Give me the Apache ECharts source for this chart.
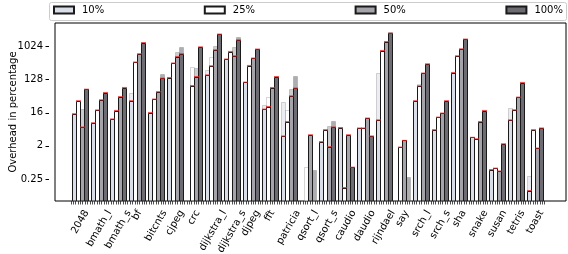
<!DOCTYPE html>
<html><head><meta charset="utf-8">
<script src="https://cdn.jsdelivr.net/npm/echarts@6/dist/echarts.min.js"></script>
<style>html,body{margin:0;padding:0;background:#fff}#c{width:568px;height:254px}</style>
</head><body><div id="c"></div>
<script>
const categories = ['2048','bmath_l','bmath_s','bf','bitcnts','cjpeg','crc','dijkstra_l','dijkstra_s','djpeg','fft','patricia','qsort_l','qsort_s','caudio','daudio','rijndael','say','srch_l','srch_s','sha','snake','susan','tetris','toast'];
const seriesNames = ['10%','25%','50%','100%'];
// outlined (main) bars
const p10  = [15, 8.5, 10.8, 34, 16.2, 146, null, 172, 465, 109, 20, 3.7, null, 2.6, 6.3, 6.1, 10.2, null, 34, 5.5, 200, 3.4, 0.45, 10.2, 0.12];
const p25  = [34, 19, 18.4, 385, 37.6, 362, 88, 305, 750, 311, 23.6, 9.2, null, 5.5, 0.145, 6.1, 797, 1.84, 87, 12.1, 570, 3.1, 0.49, 19.2, 5.5];
const p50  = [6.5, 36, 44, 650, 60, 546, 155, 832, 570, 494, 78, 46, 4, 1.9, 4, 11.4, 1400, 2.8, 193, 15.6, 885, 9.2, 0.41, 42.5, 1.73];
const p100 = [70, 57, 78, 1315, 140, 650, 1000, 2230, 1555, 870, 155, 75, null, 6.5, 0.52, 3.7, 2350, null, 345, 34, 1630, 18.4, 2.27, 107, 6.1];
// translucent (second run) bars
const g10  = [null, null, null, 55, null, null, null, 237, null, null, 26, 32, null, null, null, null, 200, null, null, null, null, null, null, 21.4, 0.31];
const g25  = [null, null, null, null, null, null, 280, 546, null, null, 44, 19, 0.54, null, null, null, null, null, 98, null, null, null, null, null, null];
const g50  = [20, null, null, null, null, 720, 267, 1070, 1024, null, null, 70, null, 7, null, null, null, null, null, null, null, null, null, null, null];
const g100 = [null, null, null, null, 181, 990, null, null, 1840, null, null, 162, 0.44, 9.8, null, null, 2630, 0.29, null, null, null, null, null, null, null];
const yTickValues = [0.25, 2, 16, 128, 1024];

const FONT = 'DejaVu Sans';
const fills = ['#dadee8', '#ffffff', '#a4a4aa', '#6c6c72'];
const mainData = [p10, p25, p50, p100];
const ghostData = [g10, g25, g50, g100];
const yMin = 0.0625, yMax = 4500;
const BW = 4;

const measureCtx = document.createElement('canvas').getContext('2d');
measureCtx.font = '10px "' + FONT + '"';

const chart = echarts.init(document.getElementById('c'), null, {renderer: 'canvas'});

function barRenderer(slot) {
  return function (params, api) {
    const i = api.value(0);
    const v = api.value(1);
    if (v == null || isNaN(v)) return null;
    const top = api.coord([i, v]);
    const cs = params.coordSys;
    const bottom = cs.y + cs.height;
    const x = Math.round(top[0] + (slot - 2) * BW) + 0.5;
    const y = Math.round(top[1]) + 0.5;
    return {type: 'rect', shape: {x: x, y: y, width: BW, height: bottom - y}, style: api.style()};
  };
}

const series = [];
seriesNames.forEach((n, k) => {
  series.push({
    name: 'ghost' + n, type: 'custom', xAxisIndex: 1, yAxisIndex: 1, z: 1, silent: true, clip: true,
    encode: {x: 0, y: 1},
    itemStyle: {color: fills[k], opacity: 0.55, borderColor: 'rgba(40,40,40,0.35)', borderWidth: 1},
    data: categories.map((c, i) => [i, ghostData[k][i]]),
    renderItem: barRenderer(k)
  });
});
seriesNames.forEach((n, k) => {
  series.push({
    name: n, type: 'custom', xAxisIndex: 1, yAxisIndex: 1, z: 2, clip: true,
    encode: {x: 0, y: 1},
    itemStyle: {color: fills[k], borderColor: '#1a1a1a', borderWidth: 1},
    data: categories.map((c, i) => [i, mainData[k][i]]),
    renderItem: barRenderer(k)
  });
});
// red error caps at the top of each measured bar
series.push({
  type: 'custom', xAxisIndex: 1, yAxisIndex: 1, z: 5, silent: true,
  encode: {x: 0, y: 1},
  data: categories.map((c, i) => [i, 1, p10[i], p25[i], p50[i], p100[i]]),
  renderItem(params, api) {
    const i = api.value(0);
    const children = [];
    for (let k = 0; k < 4; k++) {
      const v = api.value(k + 2);
      if (v == null || isNaN(v)) continue;
      const c = api.coord([i, v]);
      const x = Math.round(c[0] + (k - 2) * BW) + 2.5;
      children.push({type: 'line', shape: {x1: x - 2.5, y1: c[1], x2: x + 2.5, y2: c[1]},
        style: {stroke: 'rgba(228,30,30,0.75)', lineWidth: 1.2}});
    }
    return {type: 'group', children};
  }
});
// rotated category labels (matplotlib-like: rotated box centred under tick)
series.push({
  type: 'custom', xAxisIndex: 1, yAxisIndex: 1, z: 5, silent: true, clip: false,
  encode: {x: 0, y: 1},
  data: categories.map((c, i) => [i, 1]),
  renderItem(params, api) {
    const i = api.value(0);
    const txt = categories[i];
    const x = api.coord([i, 1])[0];
    const bottom = params.coordSys.y + params.coordSys.height;
    const L = measureCtx.measureText(txt).width;
    return {type: 'text', x: x + L / 4, y: bottom + 10, rotation: Math.PI / 3,
      style: {text: txt, fill: '#000', fontSize: 10, fontFamily: FONT, align: 'right', verticalAlign: 'middle'}};
  }
});

const legendLefts = [53, 203.8, 354.6, 505.4];
const legends = seriesNames.map((n, k) => ({
  data: [n], left: legendLefts[k], top: 5, padding: 0, itemWidth: 20, itemHeight: 7,
  icon: 'rect', selectedMode: false, itemGap: 0,
  textStyle: {fontSize: 10, fontFamily: FONT, color: '#000', padding: [0, 0, 0, 3]}
}));

chart.setOption({
  animation: false,
  backgroundColor: '#fff',
  graphic: [{type: 'rect', left: 49, top: 2, shape: {width: 517, height: 18, r: 2},
    style: {fill: '#fff', stroke: '#cccccc', lineWidth: 1}, z: -1}],
  legend: legends,
  grid: [
    {left: 49, right: 2, top: 23, bottom: 53, show: true, borderColor: '#000', borderWidth: 1, backgroundColor: 'transparent'},
    {left: 70.8, right: 23.4, top: 23, bottom: 53},
    {left: 49, right: 2, top: 23, bottom: 75.06}
  ],
  xAxis: [
    {type: 'value', gridIndex: 0, min: 0, max: 1, show: false},
    {type: 'category', gridIndex: 1, data: categories, axisLine: {show: false}, axisTick: {show: false}, axisLabel: {show: false}, splitLine: {show: false}},
    {type: 'value', gridIndex: 1, min: -0.5, max: 24.5, interval: 0.125, position: 'bottom',
      axisLine: {show: false}, axisLabel: {show: false}, splitLine: {show: false},
      axisTick: {show: true, length: 3.5, lineStyle: {color: '#222', width: 0.8}}},
    {type: 'category', gridIndex: 1, data: categories, show: false},
    {type: 'value', gridIndex: 2, min: 0, max: 1, show: false}
  ],
  yAxis: [
    {type: 'log', logBase: 2, gridIndex: 0, min: yMin, max: yMax,
      name: 'Overhead in percentage', nameLocation: 'middle', nameGap: 37, nameRotate: 90,
      nameTextStyle: {fontSize: 10, fontFamily: FONT, color: '#000'},
      axisLine: {show: false}, axisTick: {show: false}, axisLabel: {show: false}, splitLine: {show: false}},
    {type: 'log', logBase: 2, gridIndex: 1, min: yMin, max: yMax, show: false, splitLine: {show: false}},
    {type: 'log', logBase: 2, gridIndex: 2, min: yTickValues[0], max: yMax, interval: 3,
      axisLine: {show: false}, splitLine: {show: false},
      axisTick: {show: true, length: 3.5, lineStyle: {color: '#000'}},
      axisLabel: {fontSize: 10, fontFamily: FONT, color: '#000', margin: 6, showMaxLabel: false,
        formatter: v => yTickValues.includes(+v) ? String(+v) : ''}}
  ],
  series
});
</script></body></html>
